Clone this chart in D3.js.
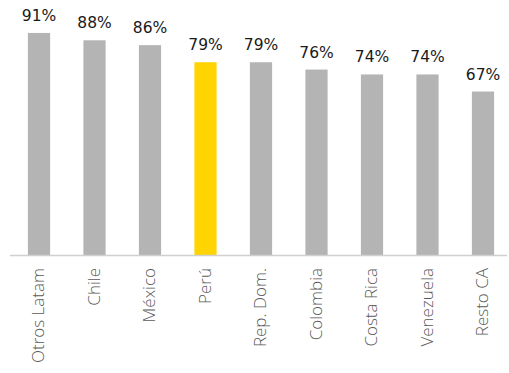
<!DOCTYPE html>
<html><head><meta charset="utf-8">
<script src="https://cdn.jsdelivr.net/npm/d3@7"></script>
<style>html,body{margin:0;padding:0;background:#fff;}</style>
</head><body>
<svg id="c" width="509" height="373"></svg>
<script>
const categories = ["Otros Latam","Chile","México","Perú","Rep. Dom.","Colombia","Costa Rica","Venezuela","Resto CA"];
const values = [91,88,86,79,79,76,74,74,67];
const highlight = ["Perú"];

const svg = d3.select("#c");
const x = d3.scaleBand().domain(categories).range([11.25, 510.75]).paddingInner(0.6).paddingOuter(0.3);
const y = d3.scaleLinear().domain([0,100]).range([255, 11]);

const data = categories.map((c,i)=>({c, v: values[i]}));

svg.selectAll("rect.bar").data(data).join("rect")
  .attr("class","bar")
  .attr("x", d=>x(d.c)).attr("width", x.bandwidth())
  .attr("y", d=>y(d.v)).attr("height", d=>y(0)-y(d.v))
  .attr("fill", d=>highlight.includes(d.c) ? "#ffd400" : "#b4b4b4");

const ax = svg.append("g").attr("transform",`translate(0,${y(0)})`)
  .call(d3.axisBottom(x).tickSize(0).tickPadding(0));
ax.select(".domain").remove();
ax.append("line").attr("x1",10).attr("x2",507).attr("y1",0.5).attr("y2",0.5)
  .attr("stroke","#d0d0d0").attr("stroke-width",1.5);
ax.selectAll(".tick text")
  .attr("font-family","'Open Sans', sans-serif").attr("font-size","17px")
  .attr("font-weight","300")
  .attr("fill","#595959").attr("text-anchor","end")
  .attr("transform","rotate(-90)")
  .attr("x",-13).attr("y",0).attr("dy","0.3em");

svg.selectAll("text.val").data(data).join("text")
  .attr("class","val")
  .attr("x", d=>x(d.c)+x.bandwidth()/2)
  .attr("y", d=>y(d.v)-12)
  .attr("text-anchor","middle")
  .attr("font-family","'DejaVu Sans', Verdana, sans-serif").attr("font-size","15.5px")
  .attr("fill","#1a1a1a")
  .text(d=>d.v+"%");
</script>
</body></html>
